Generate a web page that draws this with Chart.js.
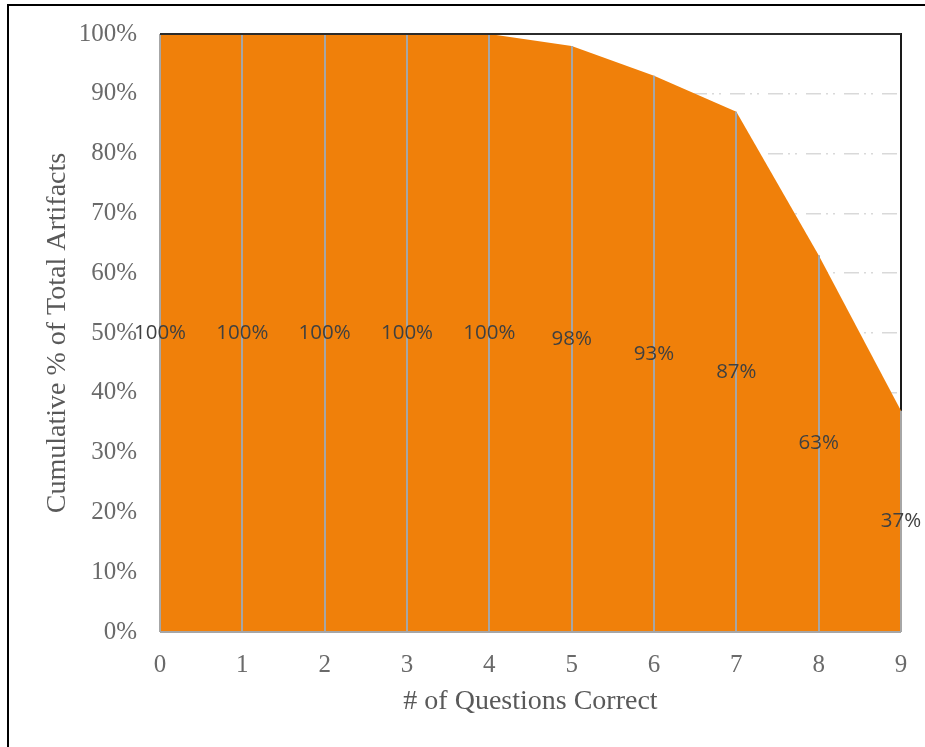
<!DOCTYPE html>
<html>
<head>
<meta charset="utf-8">
<script src="https://cdn.jsdelivr.net/npm/chart.js@4/dist/chart.umd.min.js"></script>
<style>
  html, body { margin: 0; padding: 0; background: #ffffff; }
  #wrap { position: relative; width: 925px; height: 747px; overflow: hidden; }
  #frame { position: absolute; left: 7px; top: 4px; width: 2000px; height: 2000px;
           border-left: 2px solid #000; border-top: 2px solid #000; pointer-events: none; }
  canvas { position: absolute; left: 0; top: 0; }
</style>
</head>
<body>
<div id="wrap">
  <canvas id="chart" width="925" height="747"></canvas>
  <div id="frame"></div>
</div>
<script>
// Questions answered correctly (x) and cumulative share of artifacts (%)
const questionsCorrect = ['0', '1', '2', '3', '4', '5', '6', '7', '8', '9'];
const cumulativePct = [100, 100, 100, 100, 100, 98, 93, 87, 63, 37];
const yTickStep = 10;
const xTitle = '# of Questions Correct';
const yTitle = 'Cumulative % of Total Artifacts';

const FILL = '#F0800A';
const DROP = '#A6A6A6';

// Plot frame, drop lines and value labels
const frameLines = {
  id: 'frameLines',
  beforeDatasetsDraw(chart) {
    const { ctx, chartArea: a } = chart;
    ctx.save();
    ctx.strokeStyle = '#1a1a1a';
    ctx.lineWidth = 2;
    ctx.beginPath();
    ctx.moveTo(a.left, a.top);
    ctx.lineTo(a.right, a.top);
    ctx.lineTo(a.right, a.bottom);
    ctx.stroke();
    ctx.restore();
  },
  afterDatasetsDraw(chart) {
    const { ctx, chartArea: a, scales } = chart;
    const xs = scales.x, ys = scales.y;
    ctx.save();
    // drop lines from the axis up to each value
    ctx.strokeStyle = DROP;
    ctx.lineWidth = 2;
    cumulativePct.forEach((v, i) => {
      const x = Math.round(xs.getPixelForValue(i));
      ctx.beginPath();
      ctx.moveTo(x, ys.getPixelForValue(0));
      ctx.lineTo(x, ys.getPixelForValue(v));
      ctx.stroke();
    });
    // horizontal axis line
    ctx.beginPath();
    ctx.moveTo(a.left, ys.getPixelForValue(0));
    ctx.lineTo(a.right, ys.getPixelForValue(0));
    ctx.stroke();
    // top edge of the plot area
    ctx.strokeStyle = '#2b2b2b';
    ctx.beginPath();
    ctx.moveTo(a.left, a.top);
    ctx.lineTo(a.right, a.top);
    ctx.stroke();
    // value labels centred halfway up each drop line
    ctx.fillStyle = '#404040';
    ctx.font = '20.5px "Open Sans"';
    ctx.textAlign = 'center';
    ctx.textBaseline = 'middle';
    cumulativePct.forEach((v, i) => {
      ctx.fillText(v + '%', xs.getPixelForValue(i), ys.getPixelForValue(v / 2));
    });
    ctx.restore();
  }
};

new Chart(document.getElementById('chart'), {
  type: 'line',
  data: {
    labels: questionsCorrect,
    datasets: [{
      data: cumulativePct,
      fill: 'origin',
      backgroundColor: FILL,
      borderColor: FILL,
      borderWidth: 0,
      pointRadius: 0,
      tension: 0
    }]
  },
  options: {
    responsive: false,
    animation: false,
    layout: { padding: { top: 34, right: 24, left: 0, bottom: 0 } },
    plugins: { legend: { display: false }, tooltip: { enabled: false } },
    scales: {
      x: {
        type: 'category',
        offset: false,
        afterFit(scale) { scale.height = 115; scale.paddingLeft = 0; scale.paddingRight = 0; },
        grid: { display: false, drawTicks: false },
        border: { display: false },
        ticks: {
          padding: 18,
          color: '#6a6a6a',
          font: { family: '"Liberation Serif"', size: 25 },
          maxRotation: 0
        },
        title: {
          display: true,
          text: xTitle,
          color: '#595959',
          font: { family: '"Liberation Serif"', size: 28 },
          padding: { top: 0, bottom: 29 }
        }
      },
      y: {
        min: 0,
        max: 100,
        afterFit(scale) { scale.width = 160; scale.paddingTop = 0; scale.paddingBottom = 0; },
        grid: {
          drawTicks: false,
          color: '#D9D9D9',
          lineWidth: 1.5,
          tickBorderDash: [15, 5, 2, 5, 2, 9]
        },
        border: { display: false, dash: [15, 5, 2, 5, 2, 9] },
        ticks: {
          stepSize: yTickStep,
          padding: 23,
          color: '#6a6a6a',
          font: { family: '"Liberation Serif"', size: 25 },
          callback: (v) => v + '%'
        },
        title: {
          display: true,
          text: yTitle,
          color: '#595959',
          font: { family: '"Liberation Serif"', size: 28 },
          padding: { top: 41, bottom: 0 }
        }
      }
    }
  },
  plugins: [frameLines]
});
</script>
</body>
</html>
